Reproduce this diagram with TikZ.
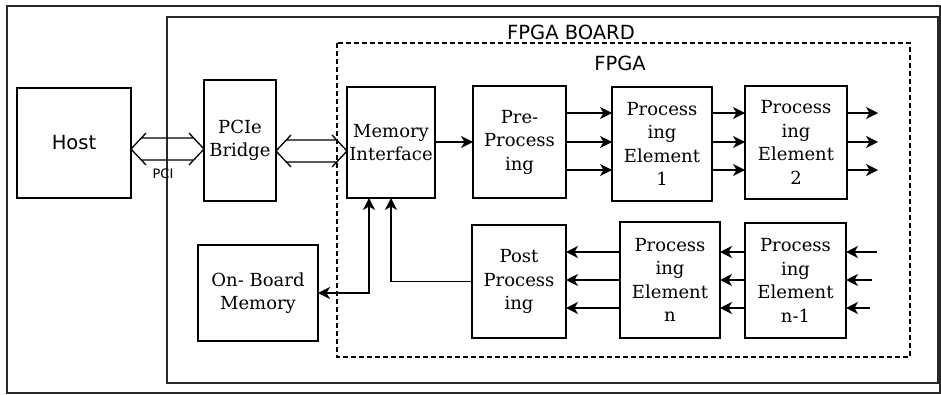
\documentclass[tikz,border=0pt]{standalone}
\usepackage{fontspec}
\setmainfont{DejaVu Serif}
\setsansfont{DejaVu Sans}
\usetikzlibrary{arrows.meta,calc}
\definecolor{boardLine}{RGB}{40, 40, 40}

% hollow two-headed bus arrow between two nodes at height #3
\newcommand{\busarrow}[3]{%
  \coordinate (busL) at (#1.east |- 0,#3);
  \coordinate (busR) at (#2.west |- 0,#3);
  \draw[line width=1.3pt] ($(busL)+(15,-16)$) -- (busL) -- ($(busL)+(15,16)$)
    ($(busR)+(-15,-16)$) -- (busR) -- ($(busR)+(-15,16)$)
    ($(busL)+(10,-11)$) -- ($(busR)+(-10,-11)$)
    ($(busL)+(10,11)$) -- ($(busR)+(-10,11)$);}

\begin{document}
\begin{tikzpicture}[x=1pt, y=-1pt,
    block/.style={draw, line width=1.3pt, align=center, inner sep=1pt,
      font=\fontsize{18}{23.5}\selectfont},
    arr/.style={-{Stealth[length=12pt,width=12pt,inset=3.5pt]}, line width=1.3pt},
    every node/.style={outer sep=0pt}]
    \useasboundingbox (0,0) rectangle (941,395);

    % Frames
    \draw[boardLine, line width=1.3pt] (7,6) rectangle (940,393);
    \draw[boardLine, line width=1.6pt] (167,17) rectangle (938,383);
    \draw[dashed, dash pattern=on 5pt off 3pt, line width=1.3pt] (337,43) rectangle (910,357);
    \node[font=\sffamily\fontsize{19.5}{22}\selectfont] (boardlbl) at (571,32) {FPGA BOARD};
    \node[font=\sffamily\fontsize{19.5}{22}\selectfont] (fpgalbl) at (620,63) {FPGA};

    % Blocks
    \node[block, font=\sffamily\fontsize{19.5}{22}\selectfont, minimum width=114, minimum height=110] (host) at (74,143) {Host};
    \node[block, minimum width=72, minimum height=121] (pcie) at (240,140.5) {PCIe\\Bridge};
    \node[block, minimum width=88, minimum height=111] (memif) at (391,142.5) {Memory\\Interface};
    \node[block, minimum width=93, minimum height=112] (pre) at (519.5,142) {Pre-\\Process\\ing};
    \node[block, minimum width=100, minimum height=114] (pe1) at (662,144) {Process\\ing\\Element\\1};
    \node[block, minimum width=102, minimum height=113] (pe2) at (796,142.5) {Process\\ing\\Element\\2};
    \node[block, minimum width=94, minimum height=113] (post) at (519,281.5) {Post\\Process\\ing};
    \node[block, minimum width=100, minimum height=116] (pen) at (670,280) {Process\\ing\\Element\\n};
    \node[block, minimum width=101, minimum height=115] (pen1) at (795.5,280.5) {Process\\ing\\Element\\n-1};
    \node[block, minimum width=120, minimum height=96] (onboard) at (258,293) {On- Board\\Memory};

    % Buses
    \busarrow{host}{pcie}{149}
    \node[font=\sffamily\fontsize{13}{15}\selectfont] (pcilbl) at (163,174) {PCI};
    \busarrow{pcie}{memif}{151}

    % Data path
    \draw[arr] (memif.east |- 0,142) -- (pre.west |- 0,142);
    \foreach \yy in {113,142,170} {
      \draw[arr] (pre.east |- 0,\yy) -- (pe1.west |- 0,\yy);
      \draw[arr] (pe1.east |- 0,\yy) -- (pe2.west |- 0,\yy);
      \draw[arr] (pe2.east |- 0,\yy) -- ++(31,0);
    }
    \foreach \yy/\xx in {252/877,280/872,308/870} {
      \coordinate (in\yy) at (\xx,\yy);
      \draw[arr] (in\yy) -- (pen1.east |- 0,\yy);
      \draw[arr] (pen1.west |- 0,\yy) -- (pen.east |- 0,\yy);
      \draw[arr] (pen.west |- 0,\yy) -- (post.east |- 0,\yy);
    }
    \draw[arr] (post.west) -| (memif.south);
    \draw[arr, {Stealth[length=12pt,width=12pt,inset=3.5pt]}-{Stealth[length=12pt,width=12pt,inset=3.5pt]}] (onboard.east) -| ([xshift=-22pt]memif.south);
\end{tikzpicture}
\end{document}
